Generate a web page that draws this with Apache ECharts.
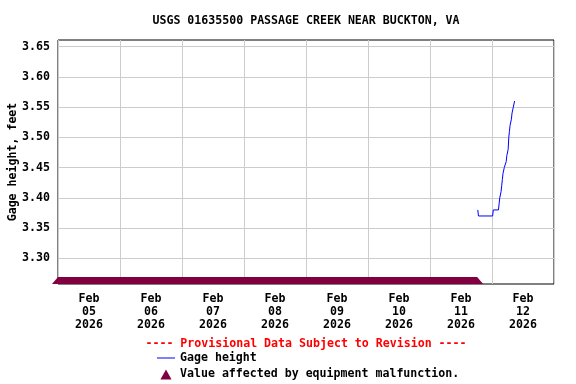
<!DOCTYPE html>
<html>
<head>
<meta charset="utf-8">
<script src="https://cdn.jsdelivr.net/npm/echarts@6/dist/echarts.min.js"></script>
<style>html,body{margin:0;padding:0;background:#fff}#c{width:576px;height:384px}</style>
</head>
<body>
<div id="c"></div>
<script>
var titleText = 'USGS 01635500 PASSAGE CREEK NEAR BUCKTON, VA';
var dateLabels = ['Feb\n05\n2026','Feb\n06\n2026','Feb\n07\n2026','Feb\n08\n2026','Feb\n09\n2026','Feb\n10\n2026','Feb\n11\n2026','Feb\n12\n2026'];
var yTicks = [3.30, 3.35, 3.40, 3.45, 3.50, 3.55, 3.60, 3.65];
var xStart = '2026-02-05 00:00';
var xEnd = '2026-02-13 00:00';
var yMin = 3.2575;
var yMax = 3.661;
var gageTimes = ['2026-02-11 18:30','2026-02-11 18:45','2026-02-12 00:15','2026-02-12 00:30',
  '2026-02-12 02:30','2026-02-12 02:45','2026-02-12 03:00','2026-02-12 03:15','2026-02-12 03:30','2026-02-12 03:45',
  '2026-02-12 04:00','2026-02-12 04:15','2026-02-12 04:30','2026-02-12 04:45','2026-02-12 05:00','2026-02-12 05:15',
  '2026-02-12 05:30','2026-02-12 05:45','2026-02-12 06:00','2026-02-12 06:15','2026-02-12 06:30','2026-02-12 06:45',
  '2026-02-12 07:00','2026-02-12 07:15','2026-02-12 07:30','2026-02-12 07:45','2026-02-12 08:00','2026-02-12 08:15',
  '2026-02-12 08:30','2026-02-12 08:45','2026-02-12 09:00'];
var gageValues = [3.38,3.37,3.37,3.38,
  3.38,3.39,3.40,3.40,3.41,3.42,
  3.43,3.44,3.44,3.45,3.45,3.45,
  3.46,3.47,3.47,3.48,3.50,3.51,
  3.52,3.52,3.53,3.54,3.54,3.55,
  3.55,3.56,3.56];
var malfunctionStart = '2026-02-05 00:00';
var malfunctionEnd = '2026-02-11 18:15';

function ms(s){ return new Date(s.replace(' ','T')+':00Z').getTime(); }
var DAY = 86400000;
var FONT = 'DejaVu Sans Mono';

var chart = echarts.init(document.getElementById('c'));
chart.setOption({
  animation: false,
  backgroundColor: '#fff',
  title: {
    text: titleText, left: 306, textAlign: 'center', top: 15, padding: 0,
    textStyle: {fontFamily: FONT, fontSize: 11.6, fontWeight: 'bold', color: '#000'}
  },
  graphic: [{
    type: 'text', x: 306, y: 343.5,
    style: {text: '---- Provisional Data Subject to Revision ----', fill: '#ff0000',
      font: 'bold 11.6px "DejaVu Sans Mono"', align: 'center', verticalAlign: 'middle'}
  }],
  legend: {
    orient: 'vertical', left: 157, top: 352, padding: 0, itemWidth: 18, itemHeight: 10, itemGap: 4.4,
    textStyle: {fontFamily: FONT, fontSize: 11.6, fontWeight: 'bold', color: '#000'},
    data: [
      {name: 'Gage height', icon: 'path://M0,0H18V1H0Z'},
      {name: 'Value affected by equipment malfunction.', icon: 'path://M5,0L10,9L0,9Z'}
    ]
  },
  grid: {left: 58, right: 22, top: 40, bottom: 100, containLabel: false, outerBoundsMode: 'none',
    show: true, borderColor: '#000', borderWidth: 1, backgroundColor: 'transparent'},
  xAxis: [{
    type: 'value', min: ms(xStart), max: ms(xEnd), interval: DAY,
    axisLine: {show: false}, axisTick: {show: false}, axisLabel: {show: false},
    splitLine: {show: true, lineStyle: {color: '#cccccc', width: 1}}
  }, {
    type: 'category', data: dateLabels, position: 'bottom', boundaryGap: true,
    axisLine: {show: false}, axisTick: {show: false}, splitLine: {show: false},
    axisLabel: {interval: 0, margin: 8, lineHeight: 13, fontFamily: FONT, fontSize: 11.6, fontWeight: 'bold', color: '#000'}
  }],
  yAxis: {
    type: 'value', min: yMin, max: yMax,
    name: 'Gage height, feet', nameLocation: 'middle', nameGap: 39, nameRotate: 90, nameMoveOverlap: false,
    nameTextStyle: {fontFamily: FONT, fontSize: 11.6, fontWeight: 'bold', color: '#000'},
    axisLine: {show: false},
    axisTick: {show: false, customValues: yTicks},
    axisLabel: {customValues: yTicks, margin: 8, fontFamily: FONT, fontSize: 11.6, fontWeight: 'bold', color: '#000',
      formatter: function(v){ return v.toFixed(2); }},
    splitLine: {show: true, lineStyle: {color: '#cccccc', width: 1}}
  },
  series: [{
    name: 'Gage height', type: 'line', xAxisIndex: 0, showSymbol: false, symbol: 'none',
    color: '#0000ff', lineStyle: {color: '#0000ff', width: 1},
    data: gageTimes.map(function(t, i){ return [ms(t), gageValues[i]]; }),
    z: 3
  }, {
    name: 'Value affected by equipment malfunction.', type: 'custom', xAxisIndex: 0,
    color: '#800040', itemStyle: {color: '#800040'}, clip: false, z: 4,
    data: [[ms(malfunctionStart), ms(malfunctionEnd), yMin]],
    renderItem: function(params, api){
      var p0 = api.coord([api.value(0), api.value(2)]);
      var p1 = api.coord([api.value(1), api.value(2)]);
      var h = 7, w = 6, yb = p0[1];
      return {
        type: 'polygon',
        shape: {points: [[p0[0]-w, yb], [p0[0], yb-h], [p1[0], yb-h], [p1[0]+w, yb]]},
        style: {fill: '#800040'}
      };
    }
  }]
});
</script>
</body>
</html>
